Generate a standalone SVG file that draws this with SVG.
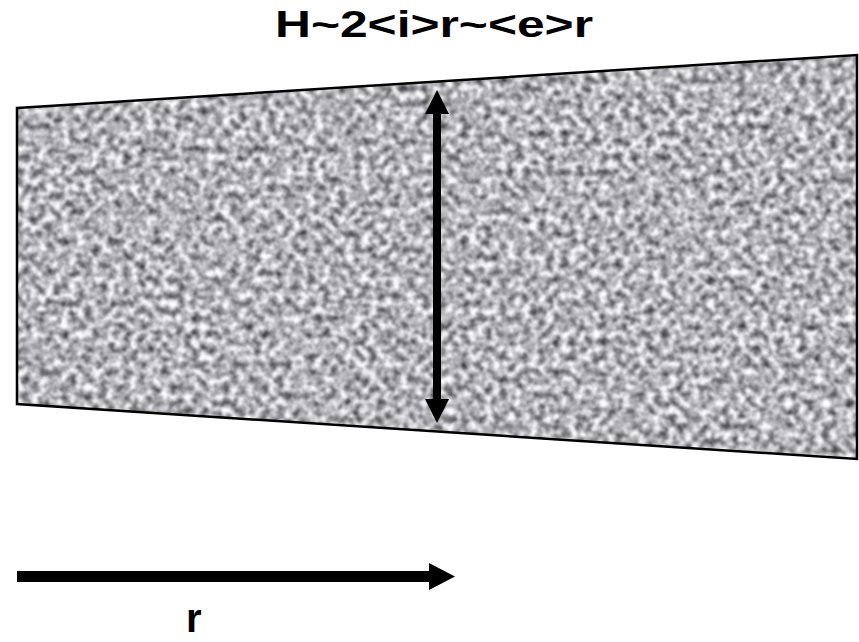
<svg xmlns="http://www.w3.org/2000/svg" width="859" height="642" viewBox="0 0 859 642">
  <style>
    .lbl { font-family: "Liberation Sans", Arial, sans-serif; font-weight: bold; fill: #000; }
    .outline { fill: none; stroke: #000; stroke-width: 2.5; stroke-linejoin: miter; }
    .shaft { stroke: #000; fill: none; }
    .head { fill: #000; stroke: none; }
  </style>
  <defs>
    <filter id="noise" filterUnits="userSpaceOnUse" x="0" y="40" width="859" height="430" color-interpolation-filters="sRGB">
      <feTurbulence type="fractalNoise" baseFrequency="0.13" numOctaves="3" seed="7" result="t"/>
      <feColorMatrix in="t" type="matrix" values="1.35 0 0 0 0.02  1.35 0 0 0 0.02  1.35 0 0 0 0.04  0 0 0 0 1" result="g"/>
      <feGaussianBlur in="g" stdDeviation="0.8"/>
    </filter>
    <clipPath id="trap">
      <polygon points="17,108 857,55 857,459 17,404"/>
    </clipPath>
  </defs>
  <rect width="859" height="642" fill="#fff"/>

  <g id="title">
    <text class="lbl" x="275" y="37" font-size="36" textLength="318" lengthAdjust="spacingAndGlyphs">H~2&lt;i&gt;r~&lt;e&gt;r</text>
  </g>

  <g id="panel">
    <g clip-path="url(#trap)">
      <rect x="0" y="40" width="859" height="430" fill="#aaa" filter="url(#noise)"/>
    </g>
    <polygon class="outline" points="17,108 857,55 857,459 17,404"/>
  </g>

  <g id="connectors">
    <g id="height-arrow">
      <line class="shaft" x1="437" y1="110" x2="437" y2="403" stroke-width="8"/>
      <polygon class="head" points="437,90 449,114 425,114"/>
      <polygon class="head" points="437,423 449,399 425,399"/>
    </g>
    <g id="r-arrow">
      <line class="shaft" x1="17" y1="576.5" x2="432" y2="576.5" stroke-width="11"/>
      <polygon class="head" points="455,576.5 429,563 429,590"/>
    </g>
  </g>

  <g id="r-label">
    <text class="lbl" x="186" y="632" font-size="40">r</text>
  </g>
</svg>
